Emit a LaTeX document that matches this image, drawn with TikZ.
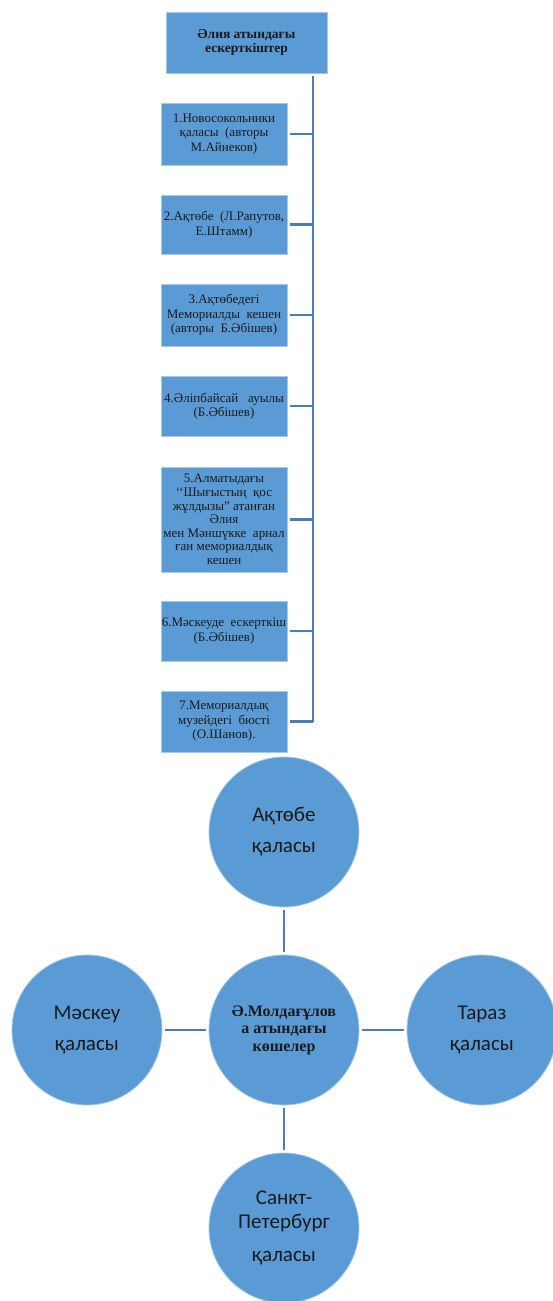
\documentclass[tikz,border=0pt]{standalone}
\usepackage{fontspec}
\setmainfont{Liberation Serif}
\newfontfamily\circfont{Carlito}
\definecolor{fillblue}{HTML}{5B9BD5}
\definecolor{edgeblue}{HTML}{A6C8EA}
\definecolor{linkblue}{HTML}{4A7EBB}
\definecolor{txt}{HTML}{1A1A1A}
\begin{document}
\begin{tikzpicture}[x=1pt,y=-1pt,
 boxbase/.style={draw=edgeblue, line width=0.8pt, fill=fillblue, inner sep=0pt, align=center, text=txt},
 listbox/.style={boxbase, minimum width=126pt, font=\fontsize{13}{14.5}\selectfont},
 titlebox/.style={boxbase, minimum width=161pt, minimum height=61pt, font=\bfseries\fontsize{13.5}{14}\selectfont},
 city/.style={circle, draw=edgeblue, line width=0.8pt, fill=fillblue, minimum size=150pt, inner sep=0pt, align=center, text=txt, font=\circfont\fontsize{21}{31}\selectfont},
 hub/.style={city, font=\bfseries\fontsize{16}{17.5}\selectfont},
 link/.style={draw=linkblue, line width=2.6pt}]
\useasboundingbox (0,0) rectangle (552,1301);
% title and list
\node[titlebox] (top) at (246.5,42.5) {Әлия атындағы\\ескерткіштер};
\node[listbox, minimum height=62pt] (b1) at (224,134) {1.Новосокольники\\қаласы \ (авторы\\М.Айнеков)};
\node[listbox, minimum height=59pt] (b2) at (224,224.5) {2.Ақтөбе \ (Л.Рапутов,\\Е.Штамм)};
\node[listbox, minimum height=62pt] (b3) at (224,315) {3.Ақтөбедегі\\Мемориалды \ кешен\\(авторы \ Б.Әбішев)};
\node[listbox, minimum height=60pt] (b4) at (224,406) {4.Әліпбайсай \ \ ауылы\\(Б.Әбішев)};
\node[listbox, minimum height=105pt, font=\fontsize{13}{13.6}\selectfont] (b5) at (224,519.5) {5.Алматыдағы\\‘‘Шығыстың \ қос\\жұлдызы” атанған\\Әлия\\мен Мәншүкке \ арнал\\ған мемориалдық\\кешен};
\node[listbox, minimum height=60pt] (b6) at (224,631) {6.Мәскеуде \ ескерткіш\\(Б.Әбішев)};
\node[listbox, minimum height=61pt] (b7) at (224,721.5) {7.Мемориалдық\\музейдегі \ бюсті\\(О.Шанов).};
\coordinate (t0) at (313,76);
\coordinate (t1) at (313,722);
\draw[link] (t0) -- (t1);
\foreach \b in {b1,b2,b3,b4,b5,b6,b7}
  \draw[link] ([xshift=3pt]\b.east) -- (\b.east -| t0);
% circles
\node[city] (ctop) at (284,832) {Ақтөбе\\қаласы};
\node[hub] (cmid) at (284,1030) {Ә.Молдағұлов\\а атындағы\\көшелер};
\node[city] (cleft) at (87,1030) {Мәскеу\\қаласы};
\node[city] (cright) at (482,1030) {Тараз\\қаласы};
\node[city] (cbot) at (284,1228) {Санкт-\\[-7pt]Петербург\\[2pt]қаласы};
\draw[link, shorten <=2.5pt, shorten >=2.5pt] (ctop) -- (cmid);
\draw[link, shorten <=2.5pt, shorten >=2.5pt] (cleft) -- (cmid);
\draw[link, shorten <=2.5pt, shorten >=2.5pt] (cmid) -- (cright);
\draw[link, shorten <=2.5pt, shorten >=2.5pt] (cmid) -- (cbot);
\end{tikzpicture}
\end{document}
